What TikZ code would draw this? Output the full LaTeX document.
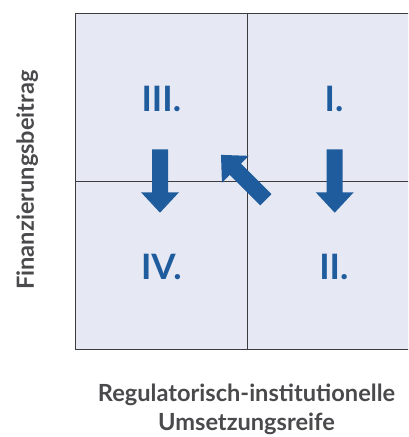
\documentclass[tikz,border=0pt]{standalone}
\usepackage{fontspec}
\setmainfont{Lato}
\usepackage{xcolor}

\definecolor{fieldfill}{HTML}{E6E9F3}
\definecolor{quadblue}{HTML}{1F5C9E}
\definecolor{axisgray}{HTML}{4A4A4D}
\definecolor{linegray}{HTML}{3C3C3F}

\tikzset{
  quadlabel/.style={text=quadblue,font=\fontsize{35}{35}\selectfont\bfseries},
  axislabel/.style={text=axisgray,font=\fontsize{23.6}{29}\selectfont\bfseries,align=center},
  blockarrow/.pic={
    \fill[quadblue] (0,-8)--(43,-8)--(43,-19)--(63.4,0)--(43,19)--(43,8)--(0,8)--cycle;
  }
}

\begin{document}
\begin{tikzpicture}[x=1pt,y=1pt]
        \clip (0,0) rectangle (408,437);
        % field and quadrants
        \draw[linegray,line width=1.1pt,fill=fieldfill] (75.3,87.7) rectangle (420,423.7);
        \draw[linegray,line width=1.1pt] (247.7,87.7)--(247.7,423.7);
        \draw[linegray,line width=1.1pt] (75.3,255.7)--(420,255.7);

        \node[quadlabel] (q3) at (161.3,338.5) {III.};
        \node[quadlabel] (q1) at (334,338.5) {I.};
        \node[quadlabel] (q4) at (161.3,170.2) {IV.};
        \node[quadlabel] (q2) at (333.8,170.2) {II.};

        % arrows between the quadrants
        \pic[rotate=-90] at (160,287.7) {blockarrow};
        \pic[rotate=-90] at (334.7,287.7) {blockarrow};
        \pic[rotate=135] at (265.8,237.3) {blockarrow};

        % axes
        \node[axislabel,rotate=90,anchor=base] (ylab) at (34,257) {Finanzierungsbeitrag};
        \node[axislabel,anchor=base] (xlab) at (246.5,6.5) {Regulatorisch-institutionelle\\Umsetzungsreife};
\end{tikzpicture}
\end{document}
